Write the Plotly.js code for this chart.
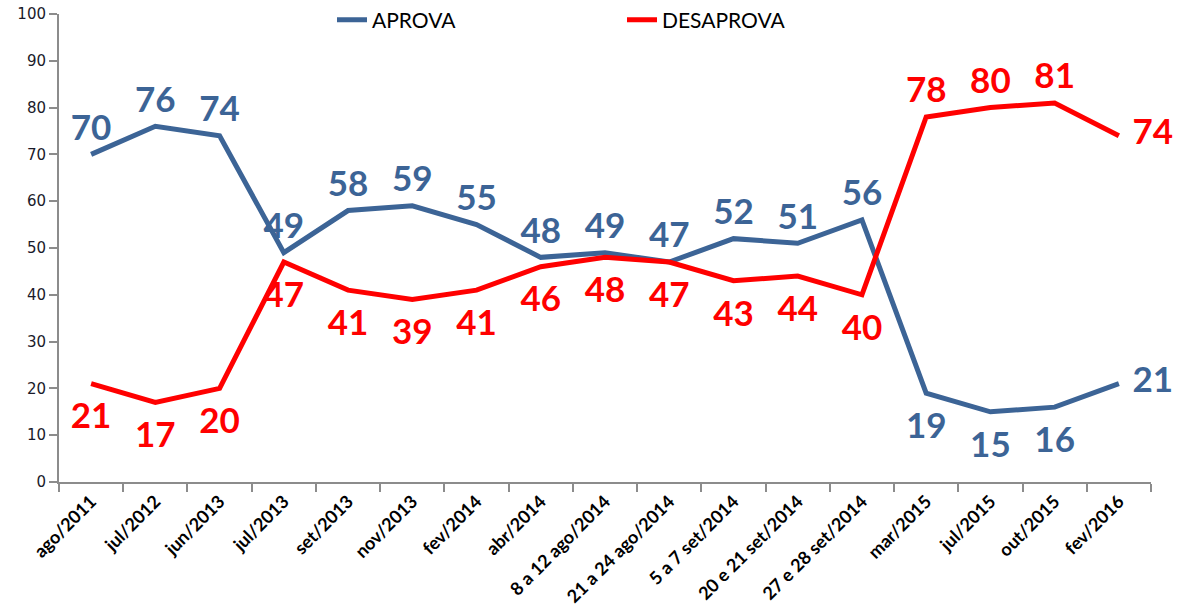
<!DOCTYPE html>
<html>
<head>
<meta charset="utf-8">
<script src="https://cdn.plot.ly/plotly-3.0.1.min.js"></script>
<style>
html,body{margin:0;padding:0;background:#fff;}
#chart{width:1180px;height:611px;}
</style>
</head>
<body>
<div id="chart"></div>
<script>
const categories = ["ago/2011","jul/2012","jun/2013","jul/2013","set/2013","nov/2013","fev/2014","abr/2014","8 a 12 ago/2014","21 a 24 ago/2014","5 a 7 set/2014","20 e 21 set/2014","27 e 28 set/2014","mar/2015","jul/2015","out/2015","fev/2016"];
const aprova = [70,76,74,49,58,59,55,48,49,47,52,51,56,19,15,16,21];
const desaprova = [21,17,20,47,41,39,41,46,48,47,43,44,40,78,80,81,74];

const blue = "#3C6496";
const red = "#FF0000";

const aprovaPos = categories.map((c,i)=> i===16 ? "middle right" : (i>=13 ? "bottom center" : "top center"));
const desaprovaPos = categories.map((c,i)=> i===16 ? "middle right" : (i>=13 ? "top center" : "bottom center"));
// invisible spacer marker sizes that push labels away from the line
const spacer = p => p.startsWith("bottom") ? 28 : (p.startsWith("middle") ? 20 : 8);

const labelFont = {family:"Lato, sans-serif", size:35, weight:700};

const traces = [
  {
    x: categories, y: aprova, name: "APROVA", type: "scatter", mode: "lines+markers+text",
    line: {color: blue, width: 5},
    marker: {size: aprovaPos.map(spacer), color: "rgba(0,0,0,0)", line: {width: 0, color: "rgba(0,0,0,0)"}},
    text: aprova.map(String), textposition: aprovaPos,
    textfont: Object.assign({color: blue}, labelFont),
    cliponaxis: false, hoverinfo: "skip"
  },
  {
    x: categories, y: desaprova, name: "DESAPROVA", type: "scatter", mode: "lines+markers+text",
    line: {color: red, width: 5},
    marker: {size: desaprovaPos.map(spacer), color: "rgba(0,0,0,0)", line: {width: 0, color: "rgba(0,0,0,0)"}},
    text: desaprova.map(String), textposition: desaprovaPos,
    textfont: Object.assign({color: red}, labelFont),
    cliponaxis: false, hoverinfo: "skip"
  }
];

const layout = {
  width: 1180, height: 611,
  margin: {l: 59, r: 29, t: 14, b: 129, autoexpand: false},
  paper_bgcolor: "#fff", plot_bgcolor: "#fff",
  showlegend: true,
  legend: {
    orientation: "h", x: 0.25, xanchor: "left", y: 0.987, yanchor: "middle",
    font: {family: "Lato, sans-serif", size: 21, color: "#000"},
    entrywidth: 245, entrywidthmode: "pixels", bgcolor: "rgba(0,0,0,0)", itemwidth: 30
  },
  xaxis: {
    type: "category", range: [-0.5, 16.5], tickson: "boundaries",
    ticks: "outside", ticklen: 8, tickwidth: 2, tickcolor: "#8C8C8C",
    showline: true, linecolor: "#8C8C8C", linewidth: 2, showgrid: false, zeroline: false,
    tickangle: -45, tickfont: {family: "Lato, sans-serif", size: 18, weight: 700, color: "#000"},
    fixedrange: true, automargin: false
  },
  yaxis: {
    range: [0, 100], dtick: 10, tick0: 0,
    ticks: "outside", ticklen: 8, tickwidth: 2, tickcolor: "#8C8C8C",
    showline: true, linecolor: "#8C8C8C", linewidth: 2, showgrid: false, zeroline: false,
    tickfont: {family: "DejaVu Sans, sans-serif", size: 15, color: "#1a1a2a"},
    fixedrange: true, automargin: false
  }
};

Plotly.newPlot("chart", traces, layout, {displayModeBar: false, staticPlot: true});
</script>
</body>
</html>
